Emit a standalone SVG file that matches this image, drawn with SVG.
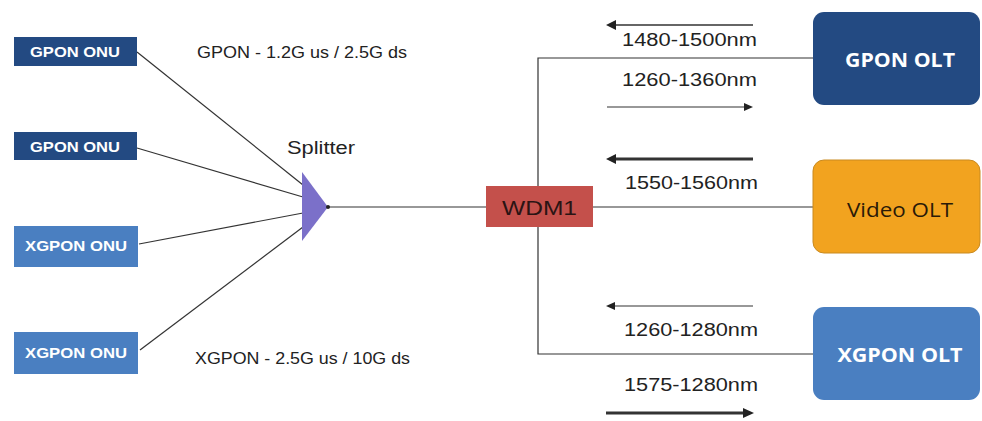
<svg xmlns="http://www.w3.org/2000/svg" width="982" height="421" viewBox="0 0 982 421">
<defs>
<style>
.onu-g{fill:#234a82}
.onu-x{fill:#4a7fc1}
.onu-t{fill:#fff;font-family:"Liberation Sans",Arial,sans-serif;font-weight:bold;font-size:14px;text-anchor:middle;dominant-baseline:central}
.lbl{fill:#222;font-family:"Liberation Sans",Arial,sans-serif;font-size:16px;dominant-baseline:central}
.nm{fill:#222;font-family:"Liberation Sans",Arial,sans-serif;font-size:18px;dominant-baseline:central}
.olt-t{font-family:"Open Sans","Liberation Sans",sans-serif;font-size:20px;text-anchor:middle;dominant-baseline:central}
.ln{stroke:#333;stroke-width:1.2;fill:none}
.ar{stroke:#333;fill:none}
.hd{fill:#222}
</style>
</defs>
<rect width="982" height="421" fill="#fff"/>

<g id="connectors">
<line class="ln" x1="137" y1="52" x2="303" y2="185"/>
<line class="ln" x1="137" y1="148" x2="303" y2="197"/>
<line class="ln" x1="139" y1="244" x2="303" y2="213"/>
<line class="ln" x1="140" y1="350" x2="303" y2="227"/>
<line class="ln" x1="328" y1="207" x2="486" y2="207"/>
<line class="ln" x1="593" y1="207" x2="815" y2="207"/>
<polyline class="ln" points="815,58 538,58 538,354 815,354"/>
<!-- wavelength arrows -->
<line class="ar" stroke-width="1.5" x1="753" y1="25" x2="612" y2="25"/>
<polygon class="hd" points="606,25 616,20 616,30"/>
<line class="ar" stroke-width="1.2" x1="607" y1="107" x2="746" y2="107"/>
<polygon class="hd" points="753,107 744,103 744,111"/>
<line class="ar" stroke-width="3" x1="753" y1="159" x2="612" y2="159"/>
<polygon class="hd" points="606,159 616,154 616,164"/>
<line class="ar" stroke-width="1.2" x1="753" y1="306" x2="612" y2="306"/>
<polygon class="hd" points="606,306 615,302 615,310"/>
<line class="ar" stroke-width="3" x1="606" y1="413" x2="746" y2="413"/>
<polygon class="hd" points="754,413 743,408 743,418"/>
</g>

<g id="onu1"><rect class="onu-g" x="14" y="37" width="123" height="29"/><text class="onu-t" x="75" y="52" textLength="90" lengthAdjust="spacingAndGlyphs">GPON ONU</text></g>
<g id="onu2"><rect class="onu-g" x="14" y="132" width="123" height="28"/><text class="onu-t" x="75" y="147" textLength="90" lengthAdjust="spacingAndGlyphs">GPON ONU</text></g>
<g id="onu3"><rect class="onu-x" x="14" y="226" width="124" height="41"/><text class="onu-t" x="76" y="246" textLength="102" lengthAdjust="spacingAndGlyphs">XGPON ONU</text></g>
<g id="onu4"><rect class="onu-x" x="14" y="332" width="124" height="42"/><text class="onu-t" x="76" y="353" textLength="102" lengthAdjust="spacingAndGlyphs">XGPON ONU</text></g>

<g id="splitter">
<polygon points="302,172 328,207 302,241" fill="#7b70c9"/>
<circle cx="328" cy="207" r="2" fill="#222"/>
<text class="nm" x="287" y="148" textLength="68" lengthAdjust="spacingAndGlyphs">Splitter</text>
</g>

<text class="lbl" x="197" y="52" textLength="210" lengthAdjust="spacingAndGlyphs">GPON - 1.2G us / 2.5G ds</text>
<text class="lbl" x="195" y="358" textLength="215" lengthAdjust="spacingAndGlyphs">XGPON - 2.5G us / 10G ds</text>

<g id="wdm1">
<rect x="486" y="186" width="107" height="41" fill="#c4504b"/>
<text x="539.5" y="207" font-family="Liberation Sans,Arial,sans-serif" font-size="21" fill="#2a1414" text-anchor="middle" dominant-baseline="central" textLength="75" lengthAdjust="spacingAndGlyphs">WDM1</text>
</g>

<text class="nm" x="622" y="40" textLength="135" lengthAdjust="spacingAndGlyphs">1480-1500nm</text>
<text class="nm" x="622" y="80" textLength="135" lengthAdjust="spacingAndGlyphs">1260-1360nm</text>
<text class="nm" x="625" y="183" textLength="133" lengthAdjust="spacingAndGlyphs">1550-1560nm</text>
<text class="nm" x="624" y="330" textLength="134" lengthAdjust="spacingAndGlyphs">1260-1280nm</text>
<text class="nm" x="624" y="385" textLength="134" lengthAdjust="spacingAndGlyphs">1575-1280nm</text>

<g id="gpon-olt"><rect x="813" y="12" width="167" height="93" rx="11" fill="#234a82"/><text class="olt-t" x="900" y="59" fill="#fff" font-weight="bold" textLength="110" lengthAdjust="spacingAndGlyphs">GPON OLT</text></g>
<g id="video-olt"><rect x="813" y="160" width="167" height="93" rx="11" fill="#f2a31f" stroke="#c98a20" stroke-width="1"/><text class="olt-t" x="900" y="209" fill="#2a1a08" textLength="106" lengthAdjust="spacingAndGlyphs">Video OLT</text></g>
<g id="xgpon-olt"><rect x="813" y="307" width="167" height="93" rx="11" fill="#4a7fc1"/><text class="olt-t" x="900" y="354" fill="#fff" font-weight="bold" textLength="125" lengthAdjust="spacingAndGlyphs">XGPON OLT</text></g>
</svg>
